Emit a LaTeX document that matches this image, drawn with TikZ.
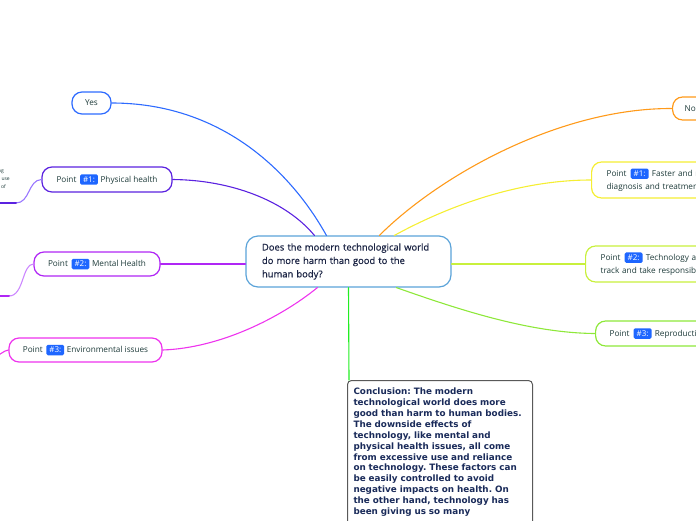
\documentclass[tikz,border=0pt]{standalone}
\usepackage{fontspec}
\setmainfont{Open Sans}
\newfontfamily\semib[FakeBold=0.6]{Open Sans}
\newfontfamily\concfont{DejaVu Sans}
\usetikzlibrary{calc}
\frenchspacing
\definecolor{txt}{HTML}{1E3B3A}
\definecolor{navy}{HTML}{1B2444}
\definecolor{concnavy}{HTML}{1A2B5A}
\definecolor{cCenter}{HTML}{5BA3D9}
\definecolor{cYes}{HTML}{2E6BFF}
\definecolor{cPone}{HTML}{5B22E0}
\definecolor{cPoneL}{HTML}{9977FF}
\definecolor{cPtwo}{HTML}{B026F5}
\definecolor{cPtwoL}{HTML}{CC88FF}
\definecolor{cPthree}{HTML}{EE33EE}
\definecolor{cNo}{HTML}{FF9A1A}
\definecolor{cRone}{HTML}{F5EE33}
\definecolor{cRtwo}{HTML}{C8F03C}
\definecolor{cRthree}{HTML}{8EE83A}
\definecolor{cGreen}{HTML}{22EE22}
\definecolor{badge}{HTML}{1E66FF}
\newcommand\mybadge[1]{\hspace{1.5pt}\tikz[baseline=(bb.base)]\node[draw=none,fill=badge,text=white,
  rounded corners=1.5pt,minimum width=0pt,minimum height=0pt,text width=,align=center,
  inner xsep=3pt,inner ysep=2.3pt,line width=0pt,font=\fontsize{8}{9}\selectfont](bb){#1};\hspace{0.5pt}}
\tikzset{
  box/.style={draw, rounded corners=10, line width=1.2pt, fill=white, text=txt,
    font=\fontsize{8.2}{13}\selectfont, inner sep=0pt},
  conn/.style={line width=1.1pt},
  stub/.style={line width=2pt}
}
\begin{document}
\begin{tikzpicture}[x=1pt,y=-1pt,line cap=round]
\useasboundingbox (0,0) rectangle (696,520);
\clip (0,0) rectangle (696,520);
% center
\node[draw=cCenter, line width=1.2pt, fill=white, rounded corners=12,
  minimum width=205, minimum height=51, text width=177, inner xsep=14, inner ysep=0pt,
  align=left, text=navy, font=\semib\fontsize{9.4}{13.4}\selectfont] (c) at (348.5,261.5)
  {\hspace{2pt}Does the modern technological world\\ \hspace{2pt}do more harm than good to the\\ \hspace{2pt}human body?};
% left nodes
\node[box, draw=cYes, minimum width=39, minimum height=22] (yes) at (91.5,103) {Yes};
\node[box, draw=cPone, minimum width=130, minimum height=25] (p1) at (107,179.5) {Point \mybadge{\#1:} Physical health};
\node[box, draw=cPtwo, minimum width=126, minimum height=24] (p2) at (97,264) {Point \mybadge{\#2:} Mental Health};
\node[box, draw=cPthree, minimum width=153, minimum height=24] (p3) at (85.5,350) {Point \mybadge{\#3:} Environmental issues};
% right nodes
\node[box, draw=cNo, anchor=west, text width=40, align=left, inner xsep=12, minimum height=23] (no) at (672,108.5) {No};
\node[box, draw=cRone, anchor=west, text width=170, align=left, inner xsep=15, minimum height=36] (r1) at (591,180) {Point \mybadge{\#1:} Faster and more accurate\\ diagnosis and treatment};
\node[box, draw=cRtwo, anchor=west, text width=170, align=left, inner xsep=15, minimum height=36] (r2) at (585,264) {Point \mybadge{\#2:} Technology allows us to\\ track and take responsibility};
\node[box, draw=cRthree, anchor=west, text width=150, align=left, inner xsep=14, minimum height=25] (r3) at (595,333.5) {Point \mybadge{\#3:} Reproduction};
% conclusion
\node[draw=black!65, line width=1pt, fill=white, rounded corners=4, anchor=north west,
  text width=173, inner xsep=6, inner ysep=7.5, align=left, text=concnavy,
  font=\concfont\bfseries\fontsize{8.8}{10.9}\selectfont] (concl) at (347,380)
  {Conclusion: The modern\\ technological world does more\\ good than harm to human bodies.\\ The downside effects of\\ technology, like mental and\\ physical health issues, all come\\ from excessive use and reliance\\ on technology. These factors can\\ be easily controlled to avoid\\ negative impacts on health. On\\ the other hand, technology has\\ been giving us so many\\ \mbox{}\\ \mbox{}\\ \mbox{}};
% connectors
\draw[conn, cYes] (yes.east) .. controls (220,103) and (290,170) .. ($(c.north west)+(81,0)$);
\draw[conn, cPone] (p1.east) .. controls (230,180) and (285,200) .. ($(c.north west)+(69,0)$);
\draw[conn, cPtwo] (p2.east) -- ($(c.west)+(0,2.5)$);
\draw[conn, cPthree] (p3.east) .. controls (220,348) and (280,318) .. ($(c.south west)+(72,0)$);
\draw[conn, cNo] ($(c.north west)+(134,0)$) .. controls (440,175) and (560,108) .. (no.west);
\draw[conn, cRone] ($(c.north west)+(149,0)$) .. controls (450,205) and (520,180) .. (r1.west);
\draw[conn, cRtwo] ($(c.east)+(0,2.5)$) -- (r2.west);
\draw[conn, cRthree] ($(c.south west)+(151,0)$) .. controls (460,310) and (530,333) .. (r3.west);
\draw[conn, cGreen] (c.south) -- ($(concl.north west)+(2,0)$);
% left stubs
\coordinate (s1) at (16,203);
\coordinate (s1e) at (-5,203);
\draw[conn, cPoneL] (p1.west) .. controls (28,180) and (30,203) .. (s1);
\draw[stub, cPone] (s1) -- (s1e);
\coordinate (s2) at (9,296);
\coordinate (s2e) at (-5,296);
\draw[conn, cPtwoL] (p2.west) .. controls (22,264) and (24,296) .. (s2);
\draw[stub, cPtwo] (s2) -- (s2e);
\coordinate (s3) at (-5,357);
\draw[conn, cPthree] (p3.west) .. controls (3,351) and (0,355) .. (s3);
\node[anchor=base east, inner sep=0pt, text=txt, font=\fontsize{5}{6}\selectfont] (f1) at (4,172) {ng};
\node[anchor=base east, inner sep=0pt, text=txt, font=\fontsize{5}{6}\selectfont] (f2) at (10,180) {al use};
\node[anchor=base east, inner sep=0pt, text=txt, font=\fontsize{5}{6}\selectfont] (f3) at (6,188) {of};
\end{tikzpicture}
\end{document}
